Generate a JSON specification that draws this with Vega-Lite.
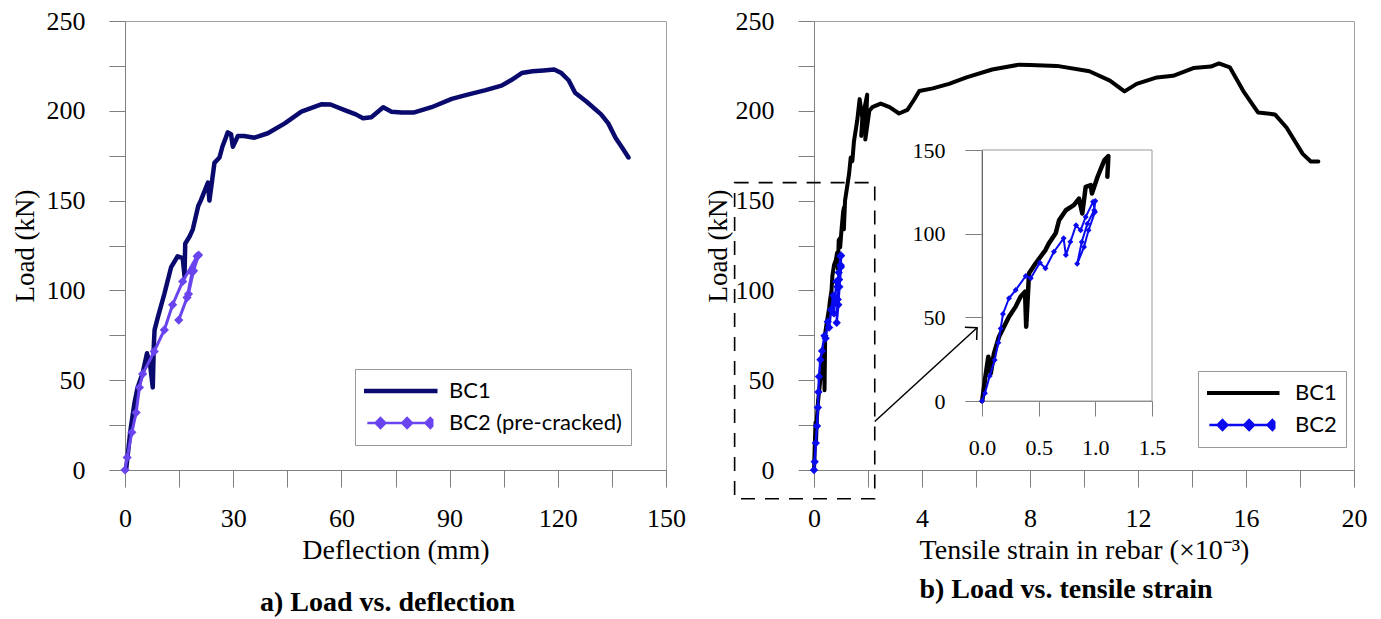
{
  "$schema": "https://vega.github.io/schema/vega-lite/v6.json",
  "background": "white",
  "padding": {"left": 10, "top": 7, "right": 10, "bottom": 0},
  "datasets": {
    "a": [
      {"series":"BC1","o":0,"d":0,"L":0},{"series":"BC1","o":1,"d":0.3,"L":0},{"series":"BC1","o":2,"d":0.7,"L":7.4},{"series":"BC1","o":3,"d":1.5,"L":22},{"series":"BC1","o":4,"d":2.6,"L":37},{"series":"BC1","o":5,"d":3.5,"L":46},{"series":"BC1","o":6,"d":4.9,"L":54},{"series":"BC1","o":7,"d":6.1,"L":65},{"series":"BC1","o":8,"d":7.0,"L":58},{"series":"BC1","o":9,"d":7.7,"L":46},{"series":"BC1","o":10,"d":8.0,"L":70},{"series":"BC1","o":11,"d":8.2,"L":78},{"series":"BC1","o":12,"d":9.1,"L":85},{"series":"BC1","o":13,"d":10.9,"L":98},{"series":"BC1","o":14,"d":12.8,"L":113},{"series":"BC1","o":15,"d":14.6,"L":119},{"series":"BC1","o":16,"d":16,"L":118},{"series":"BC1","o":17,"d":16.5,"L":108},{"series":"BC1","o":18,"d":16.7,"L":126},{"series":"BC1","o":19,"d":17.9,"L":130},{"series":"BC1","o":20,"d":18.8,"L":134},{"series":"BC1","o":21,"d":19.5,"L":140},{"series":"BC1","o":22,"d":20.3,"L":147},{"series":"BC1","o":23,"d":21,"L":150},{"series":"BC1","o":24,"d":22,"L":155},{"series":"BC1","o":25,"d":23,"L":160},{"series":"BC1","o":26,"d":23.4,"L":150},{"series":"BC1","o":27,"d":24.8,"L":171},{"series":"BC1","o":28,"d":26.2,"L":174},{"series":"BC1","o":29,"d":27,"L":180},{"series":"BC1","o":30,"d":28.5,"L":188},{"series":"BC1","o":31,"d":29.4,"L":187},{"series":"BC1","o":32,"d":29.9,"L":180},{"series":"BC1","o":33,"d":31.3,"L":186},{"series":"BC1","o":34,"d":33,"L":186},{"series":"BC1","o":35,"d":35.9,"L":185},{"series":"BC1","o":36,"d":39.6,"L":187.5},{"series":"BC1","o":37,"d":44.3,"L":193},{"series":"BC1","o":38,"d":48.9,"L":199.5},{"series":"BC1","o":39,"d":54.4,"L":203.6},{"series":"BC1","o":40,"d":57,"L":203.5},{"series":"BC1","o":41,"d":60.9,"L":200.4},{"series":"BC1","o":42,"d":64,"L":198},{"series":"BC1","o":43,"d":66,"L":195.8},{"series":"BC1","o":44,"d":68.3,"L":196.4},{"series":"BC1","o":45,"d":71.6,"L":202},{"series":"BC1","o":46,"d":73.9,"L":199.5},{"series":"BC1","o":47,"d":76.7,"L":199},{"series":"BC1","o":48,"d":80,"L":199},{"series":"BC1","o":49,"d":85,"L":202},{"series":"BC1","o":50,"d":90.6,"L":206.6},{"series":"BC1","o":51,"d":95,"L":209},{"series":"BC1","o":52,"d":100,"L":211.5},{"series":"BC1","o":53,"d":104.4,"L":214},{"series":"BC1","o":54,"d":107,"L":217},{"series":"BC1","o":55,"d":110,"L":221},{"series":"BC1","o":56,"d":113,"L":222},{"series":"BC1","o":57,"d":116,"L":222.5},{"series":"BC1","o":58,"d":119,"L":223},{"series":"BC1","o":59,"d":121,"L":221},{"series":"BC1","o":60,"d":123,"L":217},{"series":"BC1","o":61,"d":124.8,"L":210},{"series":"BC1","o":62,"d":128,"L":205},{"series":"BC1","o":63,"d":132,"L":198},{"series":"BC1","o":64,"d":134,"L":193},{"series":"BC1","o":65,"d":136,"L":185},{"series":"BC1","o":66,"d":138,"L":179},{"series":"BC1","o":67,"d":139.6,"L":174},
      {"series":"BC2 (pre-cracked)","o":0,"d":0,"L":0},{"series":"BC2 (pre-cracked)","o":1,"d":0.6,"L":7},{"series":"BC2 (pre-cracked)","o":2,"d":1.9,"L":21},{"series":"BC2 (pre-cracked)","o":3,"d":3.1,"L":32},{"series":"BC2 (pre-cracked)","o":4,"d":4.0,"L":46},{"series":"BC2 (pre-cracked)","o":5,"d":4.9,"L":53.5},{"series":"BC2 (pre-cracked)","o":6,"d":8.1,"L":66},{"series":"BC2 (pre-cracked)","o":7,"d":10.9,"L":78},{"series":"BC2 (pre-cracked)","o":8,"d":13.2,"L":92},{"series":"BC2 (pre-cracked)","o":9,"d":16,"L":105},{"series":"BC2 (pre-cracked)","o":10,"d":20,"L":119},{"series":"BC2 (pre-cracked)","o":11,"d":18.6,"L":110},{"series":"BC2 (pre-cracked)","o":12,"d":17.2,"L":96},{"series":"BC2 (pre-cracked)","o":13,"d":14.9,"L":83.5},{"series":"BC2 (pre-cracked)","o":14,"d":17.6,"L":98},{"series":"BC2 (pre-cracked)","o":15,"d":19.0,"L":111},{"series":"BC2 (pre-cracked)","o":16,"d":20.4,"L":119.7}
    ],
    "b": [
      {"series":"BC1","o":0,"s":0,"L":0},{"series":"BC1","o":1,"s":0.003,"L":0.6},{"series":"BC1","o":2,"s":0.026,"L":12.5},{"series":"BC1","o":3,"s":0.056,"L":26.5},{"series":"BC1","o":4,"s":0.077,"L":16.5},{"series":"BC1","o":5,"s":0.106,"L":28.5},{"series":"BC1","o":6,"s":0.15,"L":38.4},{"series":"BC1","o":7,"s":0.194,"L":44.4},{"series":"BC1","o":8,"s":0.238,"L":50.4},{"series":"BC1","o":9,"s":0.297,"L":56.4},{"series":"BC1","o":10,"s":0.34,"L":62.3},{"series":"BC1","o":11,"s":0.38,"L":65.3},{"series":"BC1","o":12,"s":0.39,"L":44.4},{"series":"BC1","o":13,"s":0.415,"L":76.3},{"series":"BC1","o":14,"s":0.474,"L":82.3},{"series":"BC1","o":15,"s":0.56,"L":90.2},{"series":"BC1","o":16,"s":0.59,"L":94.2},{"series":"BC1","o":17,"s":0.65,"L":100.2},{"series":"BC1","o":18,"s":0.68,"L":108},{"series":"BC1","o":19,"s":0.74,"L":114},{"series":"BC1","o":20,"s":0.81,"L":117},{"series":"BC1","o":21,"s":0.856,"L":121},{"series":"BC1","o":22,"s":0.885,"L":112},{"series":"BC1","o":23,"s":0.915,"L":128},{"series":"BC1","o":24,"s":0.96,"L":129},{"series":"BC1","o":25,"s":0.97,"L":124},{"series":"BC1","o":26,"s":1.02,"L":134},{"series":"BC1","o":27,"s":1.05,"L":139},{"series":"BC1","o":28,"s":1.08,"L":144},{"series":"BC1","o":29,"s":1.115,"L":146.4},{"series":"BC1","o":30,"s":1.106,"L":134},{"series":"BC1","o":31,"s":1.15,"L":150},{"series":"BC1","o":32,"s":1.2,"L":155},{"series":"BC1","o":33,"s":1.3,"L":165},{"series":"BC1","o":34,"s":1.36,"L":174},{"series":"BC1","o":35,"s":1.42,"L":172},{"series":"BC1","o":36,"s":1.48,"L":183},{"series":"BC1","o":37,"s":1.6,"L":194.5},{"series":"BC1","o":38,"s":1.69,"L":206.5},{"series":"BC1","o":39,"s":1.79,"L":196},{"series":"BC1","o":40,"s":1.75,"L":186},{"series":"BC1","o":41,"s":1.85,"L":200},{"series":"BC1","o":42,"s":1.97,"L":209},{"series":"BC1","o":43,"s":1.9,"L":184},{"series":"BC1","o":44,"s":2.05,"L":200},{"series":"BC1","o":45,"s":2.16,"L":202},{"series":"BC1","o":46,"s":2.47,"L":204},{"series":"BC1","o":47,"s":2.8,"L":202},{"series":"BC1","o":48,"s":3.15,"L":198.5},{"series":"BC1","o":49,"s":3.46,"L":200.5},{"series":"BC1","o":50,"s":3.7,"L":206},{"series":"BC1","o":51,"s":3.9,"L":211},{"series":"BC1","o":52,"s":4.4,"L":212.5},{"series":"BC1","o":53,"s":5.0,"L":215},{"series":"BC1","o":54,"s":5.65,"L":218.6},{"series":"BC1","o":55,"s":6.6,"L":223},{"series":"BC1","o":56,"s":7.6,"L":225.7},{"series":"BC1","o":57,"s":8.0,"L":225.5},{"series":"BC1","o":58,"s":9.0,"L":225},{"series":"BC1","o":59,"s":10.2,"L":222},{"series":"BC1","o":60,"s":10.96,"L":216.8},{"series":"BC1","o":61,"s":11.5,"L":210.8},{"series":"BC1","o":62,"s":11.95,"L":215},{"series":"BC1","o":63,"s":12.7,"L":218.6},{"series":"BC1","o":64,"s":13.3,"L":219.5},{"series":"BC1","o":65,"s":14.05,"L":223.8},{"series":"BC1","o":66,"s":14.7,"L":224.6},{"series":"BC1","o":67,"s":15.0,"L":226.4},{"series":"BC1","o":68,"s":15.4,"L":224.2},{"series":"BC1","o":69,"s":15.9,"L":211},{"series":"BC1","o":70,"s":16.45,"L":199},{"series":"BC1","o":71,"s":17.07,"L":198},{"series":"BC1","o":72,"s":17.5,"L":190.7},{"series":"BC1","o":73,"s":18.1,"L":176},{"series":"BC1","o":74,"s":18.4,"L":171.8},{"series":"BC1","o":75,"s":18.68,"L":171.8},
      {"series":"BC2","o":0,"s":0,"L":0},{"series":"BC2","o":1,"s":0.026,"L":4.6},{"series":"BC2","o":2,"s":0.068,"L":15},{"series":"BC2","o":3,"s":0.112,"L":24.5},{"series":"BC2","o":4,"s":0.144,"L":34.8},{"series":"BC2","o":5,"s":0.165,"L":43.4},{"series":"BC2","o":6,"s":0.185,"L":52},{"series":"BC2","o":7,"s":0.238,"L":61.4},{"series":"BC2","o":8,"s":0.297,"L":66.3},{"series":"BC2","o":9,"s":0.386,"L":74.7},{"series":"BC2","o":10,"s":0.43,"L":73.3},{"series":"BC2","o":11,"s":0.51,"L":82.6},{"series":"BC2","o":12,"s":0.56,"L":79.3},{"series":"BC2","o":13,"s":0.635,"L":89.2},{"series":"BC2","o":14,"s":0.72,"L":97.2},{"series":"BC2","o":15,"s":0.74,"L":87.2},{"series":"BC2","o":16,"s":0.78,"L":95.1},{"series":"BC2","o":17,"s":0.83,"L":105},{"series":"BC2","o":18,"s":0.87,"L":102},{"series":"BC2","o":19,"s":0.915,"L":110},{"series":"BC2","o":20,"s":0.98,"L":119},{"series":"BC2","o":21,"s":0.997,"L":113},{"series":"BC2","o":22,"s":0.94,"L":102},{"series":"BC2","o":23,"s":0.9,"L":92},{"series":"BC2","o":24,"s":0.84,"L":82},{"series":"BC2","o":25,"s":0.88,"L":95},{"series":"BC2","o":26,"s":0.93,"L":106},{"series":"BC2","o":27,"s":0.99,"L":114},{"series":"BC2","o":28,"s":1.0,"L":119.5}
    ]
  },
  "hconcat": [
    {
      "width": 541,
      "height": 449,
      "title": {"text": "a) Load vs. deflection", "orient": "bottom", "offset": 25, "dx": -8, "font": "Liberation Serif", "fontSize": 28, "fontWeight": "bold", "anchor": "middle", "color": "black"},
      "data": {"name": "a"},
      "layer": [
        {
          "transform": [{"filter": "datum.series === 'BC1'"}],
          "mark": {"type": "line", "strokeWidth": 4.5, "strokeJoin": "round", "strokeCap": "round"},
          "encoding": {
            "x": {"field": "d", "type": "quantitative", "scale": {"domain": [0, 150], "nice": false, "zero": false},
              "axis": {"title": "Deflection (mm)", "titleFontSize": 28, "values": [0,15,30,45,60,75,90,105,120,135,150], "labelExpr": "datum.value % 30 === 0 ? datum.label : ''", "tickSize": 17, "labelPadding": 18, "titlePadding": 5, "labelOverlap": false, "labelFlush": false,
                "encode": {"ticks": {"update": {"y2": {"signal": "datum.value % 30 === 0 ? 17 : 9"}}}}}},
            "y": {"field": "L", "type": "quantitative", "scale": {"domain": [0, 250], "nice": false},
              "axis": {"title": "Load (kN)", "titleFontSize": 27, "values": [0,25,50,75,100,125,150,175,200,225,250], "labelExpr": "datum.value % 50 === 0 ? datum.label : ''", "tickSize": 16, "labelPadding": 24, "titlePadding": 7, "labelOverlap": false, "labelFlush": false,
                "encode": {"ticks": {"update": {"x2": {"signal": "datum.value % 50 === 0 ? -16 : -9"}}}}}},
            "order": {"field": "o", "type": "quantitative"},
            "color": {"field": "series", "type": "nominal", "scale": {"domain": ["BC1", "BC2 (pre-cracked)"], "range": ["#0a0a6e", "#6a44ee"]},
              "legend": {"title": null, "orient": "none", "legendX": 230, "legendY": 348, "strokeColor": "#999999", "fillColor": "white", "padding": 9, "symbolSize": 5625, "clipHeight": 26, "rowPadding": 6, "labelOffset": 38, "symbolOffset": 25, "labelLimit": 400, "labelFont": "Lato", "labelFontSize": 22, "labelColor": "black", "symbolType": "M-1,0L1,0",
                "encode": {"symbols": {"update": {
                  "shape": {"signal": "datum.value === 'BC1' ? 'M-1,0L1,0' : 'M-0.87,0L0.86,0M-0.52,-0.13L-0.39,0L-0.52,0.13L-0.65,0ZM0.19,-0.13L0.32,0L0.19,0.13L0.06,0ZM0.81,-0.13L0.86,-0.08L0.86,0.08L0.81,0.13L0.68,0Z'"},
                  "size": {"value": 5625},
                  "strokeWidth": {"signal": "datum.value === 'BC1' ? 4.5 : 2.5"},
                  "stroke": {"signal": "datum.value === 'BC1' ? '#0a0a6e' : '#6a44ee'"},
                  "fill": {"signal": "datum.value === 'BC1' ? 'transparent' : '#6a44ee'"},
                  "opacity": {"value": 1}}}}}}
          }
        },
        {
          "transform": [{"filter": "datum.series !== 'BC1'"}],
          "mark": {"type": "line", "strokeWidth": 3, "strokeJoin": "round"},
          "encoding": {
            "x": {"field": "d", "type": "quantitative", "scale": {"domain": [0, 150], "nice": false, "zero": false}},
            "y": {"field": "L", "type": "quantitative", "scale": {"domain": [0, 250], "nice": false}},
            "order": {"field": "o", "type": "quantitative"},
            "color": {"field": "series", "type": "nominal"}
          }
        },
        {
          "transform": [{"filter": "datum.series !== 'BC1'"}],
          "mark": {"type": "point", "shape": "diamond", "filled": true, "size": 85, "opacity": 1},
          "encoding": {
            "x": {"field": "d", "type": "quantitative", "scale": {"domain": [0, 150], "nice": false, "zero": false}},
            "y": {"field": "L", "type": "quantitative", "scale": {"domain": [0, 250], "nice": false}},
            "color": {"field": "series", "type": "nominal"}
          }
        }
      ]
    },
    {
      "width": 540,
      "height": 449,
      "title": {"text": "b) Load vs. tensile strain", "orient": "bottom", "offset": 12, "dx": -18, "font": "Liberation Serif", "fontSize": 28, "fontWeight": "bold", "anchor": "middle", "color": "black"},
      "resolve": {"scale": {"x": "independent", "y": "independent"}},
      "layer": [
        {
          "layer": [
            {
              "data": {"name": "b"},
              "transform": [{"filter": "datum.series === 'BC1'"}],
              "mark": {"type": "line", "strokeWidth": 4, "strokeJoin": "round", "strokeCap": "round"},
              "encoding": {
                "x": {"field": "s", "type": "quantitative", "scale": {"domain": [0, 20], "nice": false, "zero": false},
                  "axis": {"title": "Tensile strain in rebar (×10⁻³)", "titleFontSize": 28, "values": [0,2,4,6,8,10,12,14,16,18,20], "labelExpr": "datum.value % 4 === 0 ? datum.label : ''", "tickSize": 17, "labelPadding": 18, "titlePadding": 5, "labelOverlap": false, "labelFlush": false, "orient": "bottom",
                    "encode": {"ticks": {"update": {"y2": {"signal": "datum.value % 4 === 0 ? 17 : 9"}}}}}},
                "y": {"field": "L", "type": "quantitative", "scale": {"domain": [0, 250], "nice": false},
                  "axis": {"title": "Load (kN)", "titleFontSize": 27, "values": [0,25,50,75,100,125,150,175,200,225,250], "labelExpr": "datum.value % 50 === 0 ? datum.label : ''", "tickSize": 16, "labelPadding": 24, "titlePadding": 3, "labelOverlap": false, "labelFlush": false, "orient": "left",
                    "encode": {"ticks": {"update": {"x2": {"signal": "datum.value % 50 === 0 ? -16 : -9"}}}}}},
                "order": {"field": "o", "type": "quantitative"},
                "color": {"field": "series", "type": "nominal", "scale": {"domain": ["BC1", "BC2"], "range": ["#000000", "#0a0af0"]},
                  "legend": {"title": null, "orient": "none", "legendX": 384, "legendY": 350, "strokeColor": "#999999", "fillColor": "white", "padding": 9, "symbolSize": 5625, "clipHeight": 26, "rowPadding": 6, "labelOffset": 42, "symbolOffset": 24, "labelLimit": 400, "labelFont": "Lato", "labelFontSize": 22, "labelColor": "black", "symbolType": "M-1,0L1,0",
                    "encode": {"symbols": {"update": {
                      "shape": {"signal": "datum.value === 'BC1' ? 'M-1,0L1,0' : 'M-0.87,0L0.86,0M-0.52,-0.13L-0.39,0L-0.52,0.13L-0.65,0ZM0.19,-0.13L0.32,0L0.19,0.13L0.06,0ZM0.81,-0.13L0.86,-0.08L0.86,0.08L0.81,0.13L0.68,0Z'"},
                      "size": {"value": 5625},
                      "strokeWidth": {"signal": "datum.value === 'BC1' ? 4 : 2.5"},
                      "stroke": {"signal": "datum.value === 'BC1' ? '#000000' : '#0a0af0'"},
                      "fill": {"signal": "datum.value === 'BC1' ? 'transparent' : '#0a0af0'"},
                      "opacity": {"value": 1}}}}}}
              }
            },
            {
              "data": {"values": [{}]},
              "mark": {"type": "rect", "fill": "transparent", "stroke": "black", "strokeWidth": 1.6, "strokeDash": [14, 10]},
              "encoding": {
                "x": {"datum": -2.94, "type": "quantitative", "scale": {"domain": [0, 20], "nice": false, "zero": false}},
                "x2": {"datum": 2.25},
                "y": {"datum": -16, "type": "quantitative", "scale": {"domain": [0, 250], "nice": false}},
                "y2": {"datum": 160}
              }
            },
            {
              "data": {"values": [{}]},
              "mark": {"type": "rule", "stroke": "black", "strokeWidth": 1.5},
              "encoding": {
                "x": {"datum": 2.25, "type": "quantitative", "scale": {"domain": [0, 20], "nice": false, "zero": false}},
                "x2": {"datum": 6.04},
                "y": {"datum": 27, "type": "quantitative", "scale": {"domain": [0, 250], "nice": false}},
                "y2": {"datum": 79.2}
              }
            },
            {
              "data": {"values": [{}]},
              "mark": {"type": "point", "shape": "M-1,-1L0,0L-1,1", "filled": false, "stroke": "black", "strokeWidth": 1.5, "size": 300, "angle": 317, "opacity": 1},
              "encoding": {
                "x": {"datum": 6.04, "type": "quantitative", "scale": {"domain": [0, 20], "nice": false, "zero": false}},
                "y": {"datum": 79.2, "type": "quantitative", "scale": {"domain": [0, 250], "nice": false}}
              }
            },
            {
              "data": {"name": "b"},
              "transform": [{"filter": "datum.series === 'BC2'"}],
              "mark": {"type": "line", "strokeWidth": 2.5, "strokeJoin": "round"},
              "encoding": {
                "x": {"field": "s", "type": "quantitative", "scale": {"domain": [0, 20], "nice": false, "zero": false}},
                "y": {"field": "L", "type": "quantitative", "scale": {"domain": [0, 250], "nice": false}},
                "order": {"field": "o", "type": "quantitative"},
                "color": {"field": "series", "type": "nominal"}
              }
            },
            {
              "data": {"name": "b"},
              "transform": [{"filter": "datum.series === 'BC2'"}],
              "mark": {"type": "point", "shape": "diamond", "filled": true, "size": 70, "opacity": 1},
              "encoding": {
                "x": {"field": "s", "type": "quantitative", "scale": {"domain": [0, 20], "nice": false, "zero": false}},
                "y": {"field": "L", "type": "quantitative", "scale": {"domain": [0, 250], "nice": false}},
                "color": {"field": "series", "type": "nominal"}
              }
            }
          ]
        },
        {
          "layer": [
            {
              "data": {"values": [{}]},
              "mark": {"type": "rect", "fill": "transparent", "stroke": "#999999", "strokeWidth": 1},
              "encoding": {
                "x": {"datum": 0, "type": "quantitative", "scale": {"domain": [0, 1.5], "range": [168, 338], "nice": false, "zero": false},
                  "axis": {"title": null, "orient": "bottom", "offset": -69, "values": [0, 0.5, 1, 1.5], "format": ".1f", "tickSize": 15, "labelPadding": 21, "labelFontSize": 22, "labelOverlap": false, "labelFlush": false}},
                "x2": {"datum": 1.5},
                "y": {"datum": 0, "type": "quantitative", "scale": {"domain": [0, 150], "range": [380, 129], "nice": false},
                  "axis": {"title": null, "orient": "left", "offset": -168, "values": [0, 50, 100, 150], "tickSize": 17, "labelPadding": 20, "labelFontSize": 22, "labelOverlap": false, "labelFlush": false, "domainColor": "#333333"}},
                "y2": {"datum": 150}
              }
            },
            {
              "data": {"name": "b"},
              "transform": [{"filter": "datum.series === 'BC1' && datum.s <= 1.12"}],
              "mark": {"type": "line", "strokeWidth": 4.5, "strokeJoin": "round", "strokeCap": "round", "color": "#000000"},
              "encoding": {
                "x": {"field": "s", "type": "quantitative", "scale": {"domain": [0, 1.5], "range": [168, 338], "nice": false, "zero": false}},
                "y": {"field": "L", "type": "quantitative", "scale": {"domain": [0, 150], "range": [380, 129], "nice": false}},
                "order": {"field": "o", "type": "quantitative"}
              }
            },
            {
              "data": {"name": "b"},
              "transform": [{"filter": "datum.series === 'BC2'"}],
              "mark": {"type": "line", "strokeWidth": 2, "strokeJoin": "round", "color": "#0a0af0"},
              "encoding": {
                "x": {"field": "s", "type": "quantitative", "scale": {"domain": [0, 1.5], "range": [168, 338], "nice": false, "zero": false}},
                "y": {"field": "L", "type": "quantitative", "scale": {"domain": [0, 150], "range": [380, 129], "nice": false}},
                "order": {"field": "o", "type": "quantitative"}
              }
            },
            {
              "data": {"name": "b"},
              "transform": [{"filter": "datum.series === 'BC2'"}],
              "mark": {"type": "point", "shape": "diamond", "filled": true, "size": 36, "opacity": 1, "color": "#0a0af0"},
              "encoding": {
                "x": {"field": "s", "type": "quantitative", "scale": {"domain": [0, 1.5], "range": [168, 338], "nice": false, "zero": false}},
                "y": {"field": "L", "type": "quantitative", "scale": {"domain": [0, 150], "range": [380, 129], "nice": false}}
              }
            }
          ]
        }
      ]
    }
  ],
  "spacing": 148,
  "bounds": "flush",
  "resolve": {"scale": {"color": "independent", "x": "independent", "y": "independent"}},
  "config": {
    "font": "Liberation Serif",
    "view": {"stroke": "#a0a0a0", "strokeWidth": 1},
    "axis": {"labelFont": "Liberation Serif", "titleFont": "Liberation Serif", "labelFontSize": 26, "titleFontSize": 26, "titleFontWeight": "normal", "labelColor": "black", "titleColor": "black", "grid": false, "domainColor": "#808080", "tickColor": "#808080", "domainWidth": 1, "tickWidth": 1}
  }
}
